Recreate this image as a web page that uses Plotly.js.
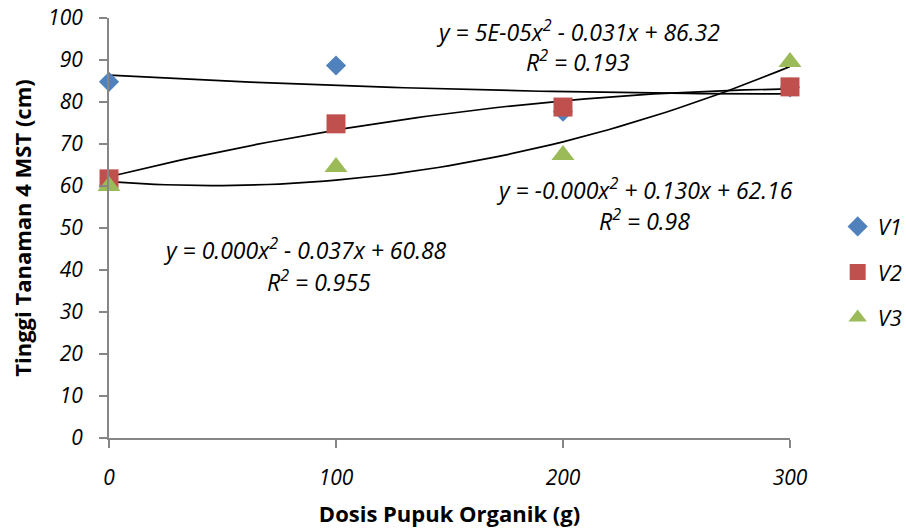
<!DOCTYPE html>
<html>
<head>
<meta charset="utf-8">
<script src="https://cdn.plot.ly/plotly-3.0.1.min.js"></script>
<style>html,body{margin:0;padding:0;background:#fff;}#chart{width:906px;height:531px;}</style>
</head>
<body>
<div id="chart"></div>
<script>
// Data
const dosis = [0, 100, 200, 300];
const v1 = [84.8, 88.7, 77.7, 83.5];
const v2 = [61.7, 74.8, 78.8, 83.6];
const v3 = [60.0, 64.5, 67.4, 89.5];
const seriesNames = ['V1', 'V2', 'V3'];
const xTicks = [0, 100, 200, 300];
const yTicks = [0, 10, 20, 30, 40, 50, 60, 70, 80, 90, 100];
const eqLabels = [
  ['y = 5E-05x<sup>2</sup> - 0.031x + 86.32', 'R<sup>2</sup> = 0.193'],
  ['y = -0.000x<sup>2</sup> + 0.130x + 62.16', 'R<sup>2</sup> = 0.98'],
  ['y = 0.000x<sup>2</sup> - 0.037x + 60.88', 'R<sup>2</sup> = 0.955']
];

// Quadratic least-squares fit (like a spreadsheet trendline)
function polyfit2(xs, ys) {
  let S = [0,0,0,0,0], T = [0,0,0];
  for (let i = 0; i < xs.length; i++) {
    let p = 1;
    for (let k = 0; k < 5; k++) { S[k] += p; if (k < 3) T[k] += p * ys[i]; p *= xs[i]; }
  }
  const A = [[S[0],S[1],S[2],T[0]],[S[1],S[2],S[3],T[1]],[S[2],S[3],S[4],T[2]]];
  for (let c = 0; c < 3; c++) {
    for (let r = c + 1; r < 3; r++) {
      const f = A[r][c] / A[c][c];
      for (let k = c; k < 4; k++) A[r][k] -= f * A[c][k];
    }
  }
  const coef = [0,0,0];
  for (let r = 2; r >= 0; r--) {
    let s = A[r][3];
    for (let k = r + 1; k < 3; k++) s -= A[r][k] * coef[k];
    coef[r] = s / A[r][r];
  }
  return coef; // c0 + c1 x + c2 x^2
}
function curve(ys) {
  const c = polyfit2(dosis, ys);
  const xs = [], yv = [];
  const lo = dosis[0], hi = dosis[dosis.length - 1];
  for (let i = 0; i <= 60; i++) {
    const x = lo + (hi - lo) * i / 60;
    xs.push(x); yv.push(c[0] + c[1] * x + c[2] * x * x);
  }
  return {xs, yv};
}

const colors = ['#4F81BD', '#C0504D', '#9BBB59'];
const symbols = ['diamond', 'square', 'triangle-up'];
const sizes = [15.5, 19, 20];
const allY = [v1, v2, v3];

const traces = [];
allY.forEach((ys, i) => {
  const t = curve(ys);
  traces.push({x: t.xs, y: t.yv, mode: 'lines', line: {color: '#000', width: 1.7},
    showlegend: false, hoverinfo: 'skip', cliponaxis: false});
});
allY.forEach((ys, i) => {
  traces.push({x: dosis, y: ys, name: seriesNames[i], mode: 'markers', legendgroup: 'g' + i,
    marker: {color: colors[i], symbol: symbols[i], size: sizes[i], line: {width: 0}},
    cliponaxis: false});
});

const font = {family: 'Open Sans, sans-serif', size: 23, color: '#000', style: 'italic'};
const annPos = [
  [[206.6, 97.0], [206.6, 89.8]],
  [[236.1, 59.2], [236.1, 51.8]],
  [[86.3, 45.0], [92.5, 37.3]]
];
const annotations = [];
eqLabels.forEach((lines, i) => {
  lines.forEach((txt, j) => {
    annotations.push({text: txt, x: annPos[i][j][0], y: annPos[i][j][1], xref: 'x', yref: 'y',
      showarrow: false, xanchor: 'center', yanchor: 'middle', font: font});
  });
});

const layout = {
  width: 906, height: 531,
  margin: {l: 109, r: 116, t: 18, b: 93, autoexpand: false},
  paper_bgcolor: '#fff', plot_bgcolor: '#fff',
  font: {family: 'Open Sans, sans-serif', color: '#000'},
  xaxis: {range: [0, 300], tickvals: xTicks, ticktext: xTicks.map(String), showgrid: false, zeroline: false,
    showline: true, linecolor: '#868686', linewidth: 2, ticks: 'outside', ticklen: 8, tickwidth: 2,
    tickcolor: '#868686', tickfont: {family: 'Open Sans, sans-serif', size: 21, color: '#000', style: 'italic'},
    ticklabelstandoff: 12, automargin: false,
    title: {text: 'Dosis Pupuk Organik (g)', font: {family: 'Open Sans, sans-serif', size: 22, color: '#000', weight: 'bold'}, standoff: 16}},
  yaxis: {range: [0, 100], tickvals: yTicks, ticktext: yTicks.map(String), showgrid: false, zeroline: false,
    showline: true, linecolor: '#868686', linewidth: 2, ticks: 'outside', ticklen: 8, tickwidth: 2,
    tickcolor: '#868686', tickfont: {family: 'Open Sans, sans-serif', size: 21, color: '#000', style: 'italic'},
    ticklabelstandoff: 12, automargin: false,
    title: {text: 'Tinggi Tanaman 4 MST (cm)', font: {family: 'Open Sans, sans-serif', size: 22, color: '#000', weight: 'bold'}, standoff: 10}},
  showlegend: true,
  legend: {x: 1.07, xanchor: 'left', y: 0.395, yanchor: 'middle', tracegroupgap: 14,
    font: {family: 'Open Sans, sans-serif', size: 22, color: '#000', style: 'italic'}, bgcolor: 'rgba(0,0,0,0)'},
  annotations: annotations
};

Plotly.newPlot('chart', traces, layout, {displayModeBar: false, staticPlot: true});
</script>
</body>
</html>
